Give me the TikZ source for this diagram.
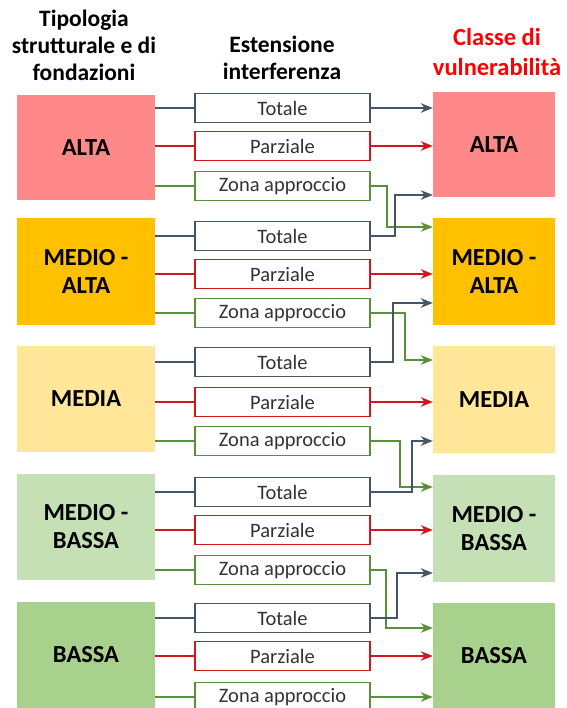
\documentclass[tikz,border=0pt]{standalone}
\usepackage{fontspec}
\setmainfont{Carlito}
\usetikzlibrary{arrows.meta}
\definecolor{cdark}{RGB}{68,84,106}
\definecolor{cred}{RGB}{205,25,30}
\definecolor{cgreen}{RGB}{88,145,55}
\definecolor{cAlta}{RGB}{255,137,137}
\definecolor{cMA}{RGB}{255,192,0}
\definecolor{cMedia}{RGB}{255,230,153}
\definecolor{cMB}{RGB}{197,224,180}
\definecolor{cBassa}{RGB}{169,209,142}
\begin{document}
\begin{tikzpicture}[x=1pt,y=-1pt,
  cbox/.style={inner sep=0pt, align=center, text=black,
    font=\bfseries\fontsize{24.5}{28}\selectfont},
  lbox/.style={cbox, minimum width=138pt},
  rbox/.style={cbox, minimum width=122pt},
  mbox/.style={draw, line width=1.7pt, fill=white, minimum width=175pt, minimum height=29pt,
    inner sep=0pt, text=black!80, font=\fontsize{20.5}{22}\selectfont},
  hdr/.style={align=center, font=\bfseries\fontsize{23.5}{27}\selectfont},
  ln/.style={line width=1.7pt},
  arr/.style={ln, -{Stealth[length=12pt,width=9.5pt]}},
]
\useasboundingbox (0,0) rectangle (566,708);
% headers
\node[hdr] (h1) at (84,45) {Tipologia\\strutturale e di\\fondazioni};
\node[hdr] (h2) at (282,58) {Estensione\\interferenza};
\node[hdr, text=red, font=\bfseries\fontsize{24.5}{30}\selectfont] (h3) at (497,52) {Classe di\\vulnerabilità};
% left boxes
\node[lbox, fill=cAlta, minimum height=105pt] (L1) at (86,147.5) {ALTA};
\node[lbox, fill=cMA, minimum height=107pt] (L2) at (86,271.5) {MEDIO -\\ALTA};
\node[lbox, fill=cMedia, minimum height=106pt] (L3) at (86,399) {MEDIA};
\node[lbox, fill=cMB, minimum height=106pt] (L4) at (86,527) {MEDIO -\\BASSA};
\node[lbox, fill=cBassa, minimum height=106pt] (L5) at (86,655) {BASSA};
% right boxes
\node[rbox, fill=cAlta, minimum height=105pt] (R1) at (494,144.5) {ALTA};
\node[rbox, fill=cMA, minimum height=107pt] (R2) at (494,271.5) {MEDIO -\\ALTA};
\node[rbox, fill=cMedia, minimum height=107pt] (R3) at (494,399.5) {MEDIA};
\node[rbox, fill=cMB, minimum height=107pt] (R4) at (494,528.5) {MEDIO -\\BASSA};
\node[rbox, fill=cBassa, minimum height=105pt] (R5) at (494,655.5) {BASSA};
% middle boxes
\node[mbox, draw=cdark] (t1) at (282.5,108) {Totale};
\node[mbox, draw=cred] (p1) at (282.5,146) {Parziale};
\node[mbox, draw=cgreen] (z1) at (282.5,186) {Zona approccio};
\node[mbox, draw=cdark] (t2) at (282.5,236) {Totale};
\node[mbox, draw=cred] (p2) at (282.5,274) {Parziale};
\node[mbox, draw=cgreen] (z2) at (282.5,313) {Zona approccio};
\node[mbox, draw=cdark] (t3) at (282.5,362) {Totale};
\node[mbox, draw=cred] (p3) at (282.5,402) {Parziale};
\node[mbox, draw=cgreen] (z3) at (282.5,441) {Zona approccio};
\node[mbox, draw=cdark] (t4) at (282.5,492) {Totale};
\node[mbox, draw=cred] (p4) at (282.5,530) {Parziale};
\node[mbox, draw=cgreen] (z4) at (282.5,570) {Zona approccio};
\node[mbox, draw=cdark] (t5) at (282.5,618) {Totale};
\node[mbox, draw=cred] (p5) at (282.5,656) {Parziale};
\node[mbox, draw=cgreen] (z5) at (282.5,697) {Zona approccio};
% left connectors
\foreach \i in {1,...,5}{
  \draw[ln, cdark] (L\i.east |- t\i.west) -- (t\i.west);
  \draw[ln, cred] (L\i.east |- p\i.west) -- (p\i.west);
  \draw[ln, cgreen] (L\i.east |- z\i.west) -- (z\i.west);
}
% arrow end points on right boxes
\coordinate (eT1) at (R1.west |- 0,108);
\coordinate (eP1) at (R1.west |- 0,146);
\coordinate (eT2) at (R1.west |- 0,195);
\coordinate (eZ1) at (R2.west |- 0,227);
\coordinate (eP2) at (R2.west |- 0,274);
\coordinate (eT3) at (R2.west |- 0,303);
\coordinate (eZ2) at (R3.west |- 0,360);
\coordinate (eP3) at (R3.west |- 0,402);
\coordinate (eT4) at (R3.west |- 0,441);
\coordinate (eZ3) at (R4.west |- 0,487);
\coordinate (eP4) at (R4.west |- 0,530);
\coordinate (eT5) at (R4.west |- 0,573);
\coordinate (eZ4) at (R5.west |- 0,628);
\coordinate (eP5) at (R5.west |- 0,656);
\coordinate (eZ5) at (R5.west |- 0,697);
% straight arrows
\draw[arr, cdark] (t1.east) -- (eT1);
\draw[arr, cred] (p1.east) -- (eP1);
\draw[arr, cred] (p2.east) -- (eP2);
\draw[arr, cred] (p3.east) -- (eP3);
\draw[arr, cred] (p4.east) -- (eP4);
\draw[arr, cred] (p5.east) -- (eP5);
\draw[arr, cgreen] (z5.east) -- (eZ5);
% elbow arrows
\draw[arr, cgreen] (z1.east) -- ++(16,0) |- (eZ1);
\draw[arr, cdark] (t2.east) -- ++(24,0) |- (eT2);
\draw[arr, cgreen] (z2.east) -- ++(34,0) |- (eZ2);
\draw[arr, cdark] (t3.east) -- ++(22,0) |- (eT3);
\draw[arr, cgreen] (z3.east) -- ++(29,0) |- (eZ3);
\draw[arr, cdark] (t4.east) -- ++(41,0) |- (eT4);
\draw[arr, cgreen] (z4.east) -- ++(15,0) |- (eZ4);
\draw[arr, cdark] (t5.east) -- ++(26,0) |- (eT5);
\end{tikzpicture}
\end{document}
